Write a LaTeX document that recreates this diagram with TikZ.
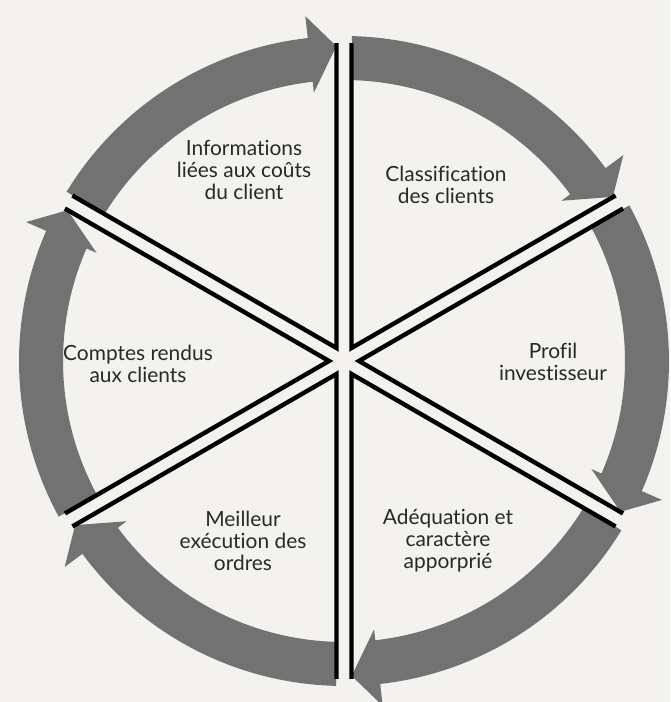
\documentclass[tikz,border=0pt]{standalone}
\usepackage{fontspec}
\setmainfont{Lato}[Ligatures=NoCommon]
\usetikzlibrary{positioning}

\definecolor{paper}{RGB}{243,242,238}
\definecolor{bandgray}{RGB}{114,114,114}
\definecolor{textgray}{RGB}{40,40,40}

\tikzstyle{label} = [text=textgray, align=center, font=\fontsize{11.9}{12.5}\selectfont]
\tikzstyle{band} = [fill=bandgray]
\tikzstyle{spoke} = [draw=black, line width=2.5pt]

\begin{document}
\begin{tikzpicture}[x=0.02cm, y=0.02cm]
    % page
    \fill[paper] (-344,-341) rectangle (326,361);
    \useasboundingbox (-344,-341) rectangle (326,361);

    % circular arrows
    \fill[band] (88.6:325) arc[start angle=88.6, end angle=36.4, radius=325] -- (36.4:347) -- (31.4:315) -- (36.4:270) -- (36.4:281) arc[start angle=36.4, end angle=88.6, radius=281] -- cycle;
    \fill[band] (28.6:325) arc[start angle=28.6, end angle=-23.6, radius=325] -- (-23.6:347) -- (-28.6:315) -- (-23.6:270) -- (-23.6:281) arc[start angle=-23.6, end angle=28.6, radius=281] -- cycle;
    \fill[band] (-31.4:325) arc[start angle=-31.4, end angle=-83.6, radius=325] -- (-83.6:347) -- (-88.6:315) -- (-83.6:270) -- (-83.6:281) arc[start angle=-83.6, end angle=-31.4, radius=281] -- cycle;
    \fill[band] (-91.4:325) arc[start angle=-91.4, end angle=-143.6, radius=325] -- (-143.6:347) -- (-148.6:315) -- (-143.6:270) -- (-143.6:281) arc[start angle=-143.6, end angle=-91.4, radius=281] -- cycle;
    \fill[band] (-151.4:325) arc[start angle=-151.4, end angle=-203.6, radius=325] -- (-203.6:347) -- (-208.6:315) -- (-203.6:270) -- (-203.6:281) arc[start angle=-203.6, end angle=-151.4, radius=281] -- cycle;
    \fill[band] (148.6:325) arc[start angle=148.6, end angle=96.4, radius=325] -- (96.4:347) -- (91.4:315) -- (96.4:270) -- (96.4:281) arc[start angle=96.4, end angle=148.6, radius=281] -- cycle;

    % double spokes
    \draw[spoke] (88.65:318) -- (60:15) -- (31.35:318);
    \draw[spoke] (28.65:318) -- (0:15) -- (-28.65:318);
    \draw[spoke] (-31.35:318) -- (-60:15) -- (-88.65:318);
    \draw[spoke] (-91.35:318) -- (-120:15) -- (-148.65:318);
    \draw[spoke] (-151.35:318) -- (-180:15) -- (-208.65:318);
    \draw[spoke] (148.65:318) -- (120:15) -- (91.35:318);

    % labels
    \node[label] (couts) at (-100,191) {Informations\\liées aux coûts\\du client};
    \node[label] (classif) at (102,176) {Classification\\des clients};
    \node[label] (profil) at (209,-1) {Profil\\investisseur};
    \node[label] (adequation) at (104,-180) {Adéquation et\\caractère\\apporprié};
    \node[label] (execution) at (-101,-180) {Meilleur\\exécution des\\ordres};
    \node[label] (comptes) at (-206,-3) {Comptes rendus\\aux clients};
\end{tikzpicture}
\end{document}
